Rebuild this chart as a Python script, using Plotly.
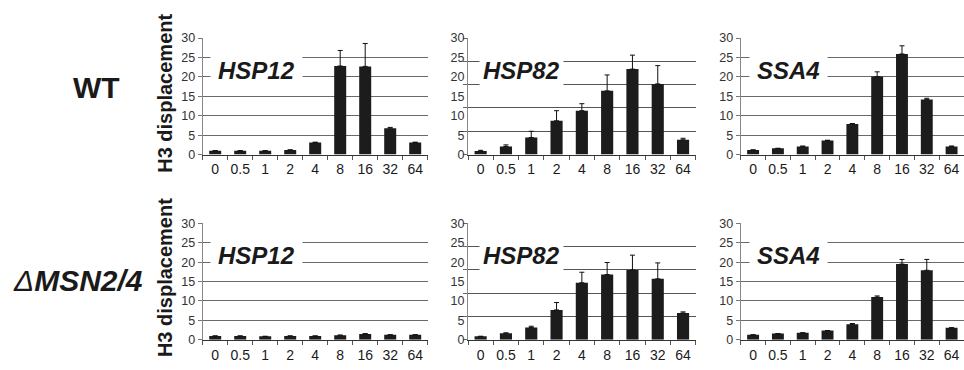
import plotly.graph_objects as go

categories = ["0", "0.5", "1", "2", "4", "8", "16", "32", "64"]

# WT
wt_hsp12 = [1.0, 1.0, 1.0, 1.2, 3.1, 22.8, 22.7, 6.8, 3.1]
wt_hsp12_err = [0.0, 0.0, 0.0, 0.0, 0.1, 4.0, 5.9, 0.2, 0.1]
wt_hsp82 = [0.9, 2.1, 4.4, 8.7, 11.3, 16.4, 22.0, 18.2, 3.8]
wt_hsp82_err = [0.2, 0.4, 1.6, 2.6, 1.8, 4.1, 3.6, 4.7, 0.4]
wt_ssa4 = [1.2, 1.6, 2.1, 3.6, 7.9, 20.1, 25.9, 14.2, 2.1]
wt_ssa4_err = [0.0, 0.0, 0.1, 0.1, 0.1, 1.2, 2.1, 0.3, 0.1]

# delta MSN2/4
ko_hsp12 = [1.0, 1.0, 0.9, 1.0, 1.0, 1.2, 1.5, 1.3, 1.3]
ko_hsp12_err = [0.0, 0.0, 0.0, 0.0, 0.0, 0.0, 0.1, 0.0, 0.0]
ko_hsp82 = [0.9, 1.7, 3.2, 7.7, 14.7, 16.8, 18.0, 15.7, 6.9]
ko_hsp82_err = [0.0, 0.1, 0.3, 1.9, 2.7, 3.1, 3.8, 4.1, 0.3]
ko_ssa4 = [1.3, 1.6, 1.8, 2.4, 4.0, 11.0, 19.5, 17.9, 3.1]
ko_ssa4_err = [0.0, 0.0, 0.0, 0.0, 0.2, 0.3, 1.2, 2.8, 0.0]

gene_names = ["HSP12", "HSP82", "SSA4"]
row_labels = ["WT", "<i>Δ</i><b><i>MSN2/4</i></b>"]
y_title = "H3 displacement"
y_ticks = [0, 5, 10, 15, 20, 25, 30]
grid_six = [0, 6, 12, 18, 24, 30]

panels = [
    (wt_hsp12, wt_hsp12_err), (wt_hsp82, wt_hsp82_err), (wt_ssa4, wt_ssa4_err),
    (ko_hsp12, ko_hsp12_err), (ko_hsp82, ko_hsp82_err), (ko_ssa4, ko_ssa4_err),
]

W, H = 964, 370
xdoms = [[202.7 / W, 427.7 / W], [468 / W, 695.7 / W], [740.7 / W, 1.0]]
ydoms = [[1 - 154 / H, 1 - 33 / H], [1 - 346 / H, 1 - 225 / H]]
gene_xc = [0.239, 0.235, 0.216]

FONT = "Liberation Sans, Arial, sans-serif"
fig = go.Figure()
layout = dict(
    width=W, height=H, margin=dict(l=0, r=0, t=0, b=0),
    paper_bgcolor="white", plot_bgcolor="white", showlegend=False,
    font=dict(family=FONT, color="#222"), bargap=0.52,
)
annotations = []
for i, (vals, errs) in enumerate(panels):
    r, c = divmod(i, 3)
    n = i + 1
    xa = "x" if n == 1 else f"x{n}"
    ya = "y" if n == 1 else f"y{n}"
    fig.add_trace(go.Bar(
        x=categories, y=vals, xaxis=xa, yaxis=ya,
        marker=dict(color="#1c1c1c", line=dict(width=0)),
        error_y=dict(type="data", symmetric=False, array=errs,
                     arrayminus=[0] * len(errs), color="#111",
                     thickness=1, width=2.5),
    ))
    xkey = "xaxis" if n == 1 else f"xaxis{n}"
    ykey = "yaxis" if n == 1 else f"yaxis{n}"
    layout[xkey] = dict(
        domain=xdoms[c], anchor=ya, type="category",
        showline=True, linecolor="#333", linewidth=1.2,
        ticks="outside", tickson="boundaries", ticklen=4, tickcolor="#555",
        tickangle=0, ticklabelstandoff=2,
        tickfont=dict(size=14, color="#1a1a1a", family=FONT),
        showgrid=False, zeroline=False, fixedrange=True,
    )
    yax = dict(
        domain=ydoms[r], anchor=xa, range=[0, 30.05],
        tickmode="array", tickvals=y_ticks,
        tickfont=dict(size=12.5, color="#333", family=FONT),
        showline=True, linecolor="#888", linewidth=1,
        zeroline=False, fixedrange=True,
    )
    if c == 1:
        yax.update(showgrid=False, ticks="", ticklen=0,
                   minor=dict(tickmode="array", tickvals=grid_six,
                              showgrid=True, gridcolor="#555", gridwidth=1,
                              ticks="outside", ticklen=4, tickcolor="#666"))
    else:
        yax.update(showgrid=True, gridcolor="#6a6a6a", gridwidth=1,
                   ticks="outside", ticklen=4, tickcolor="#777")
    layout[ykey] = yax
    annotations.append(dict(
        text=f"<b><i>{gene_names[c]}</i></b>", showarrow=False,
        xref=f"{xa} domain", yref=f"{ya} domain",
        x=gene_xc[c], y=0.719, xanchor="center", yanchor="middle",
        font=dict(size=24, color="#1a1a1a", family=FONT),
        bgcolor="white", borderpad=7 if c != 1 else 3,
    ))

for r in range(2):
    yc = 1 - (91 / H if r == 0 else 282 / H)
    annotations.append(dict(
        text=f"<b>{y_title}</b>", showarrow=False, textangle=-90,
        xref="paper", yref="paper", x=165 / W, y=yc,
        xanchor="center", yanchor="middle",
        font=dict(size=20, color="#1a1a1a", family=FONT),
    ))

annotations.append(dict(
    text="<b>" + row_labels[0] + "</b>", showarrow=False,
    xref="paper", yref="paper", x=96 / W, y=1 - 84 / H,
    xanchor="center", yanchor="middle",
    font=dict(size=30, color="#1a1a1a", family=FONT),
))
annotations.append(dict(
    text=row_labels[1], showarrow=False,
    xref="paper", yref="paper", x=78 / W, y=1 - 284 / H,
    xanchor="center", yanchor="middle",
    font=dict(size=30, color="#1a1a1a", family=FONT),
))

layout["annotations"] = annotations
fig.update_layout(**layout)
fig.write_html("out.html")
